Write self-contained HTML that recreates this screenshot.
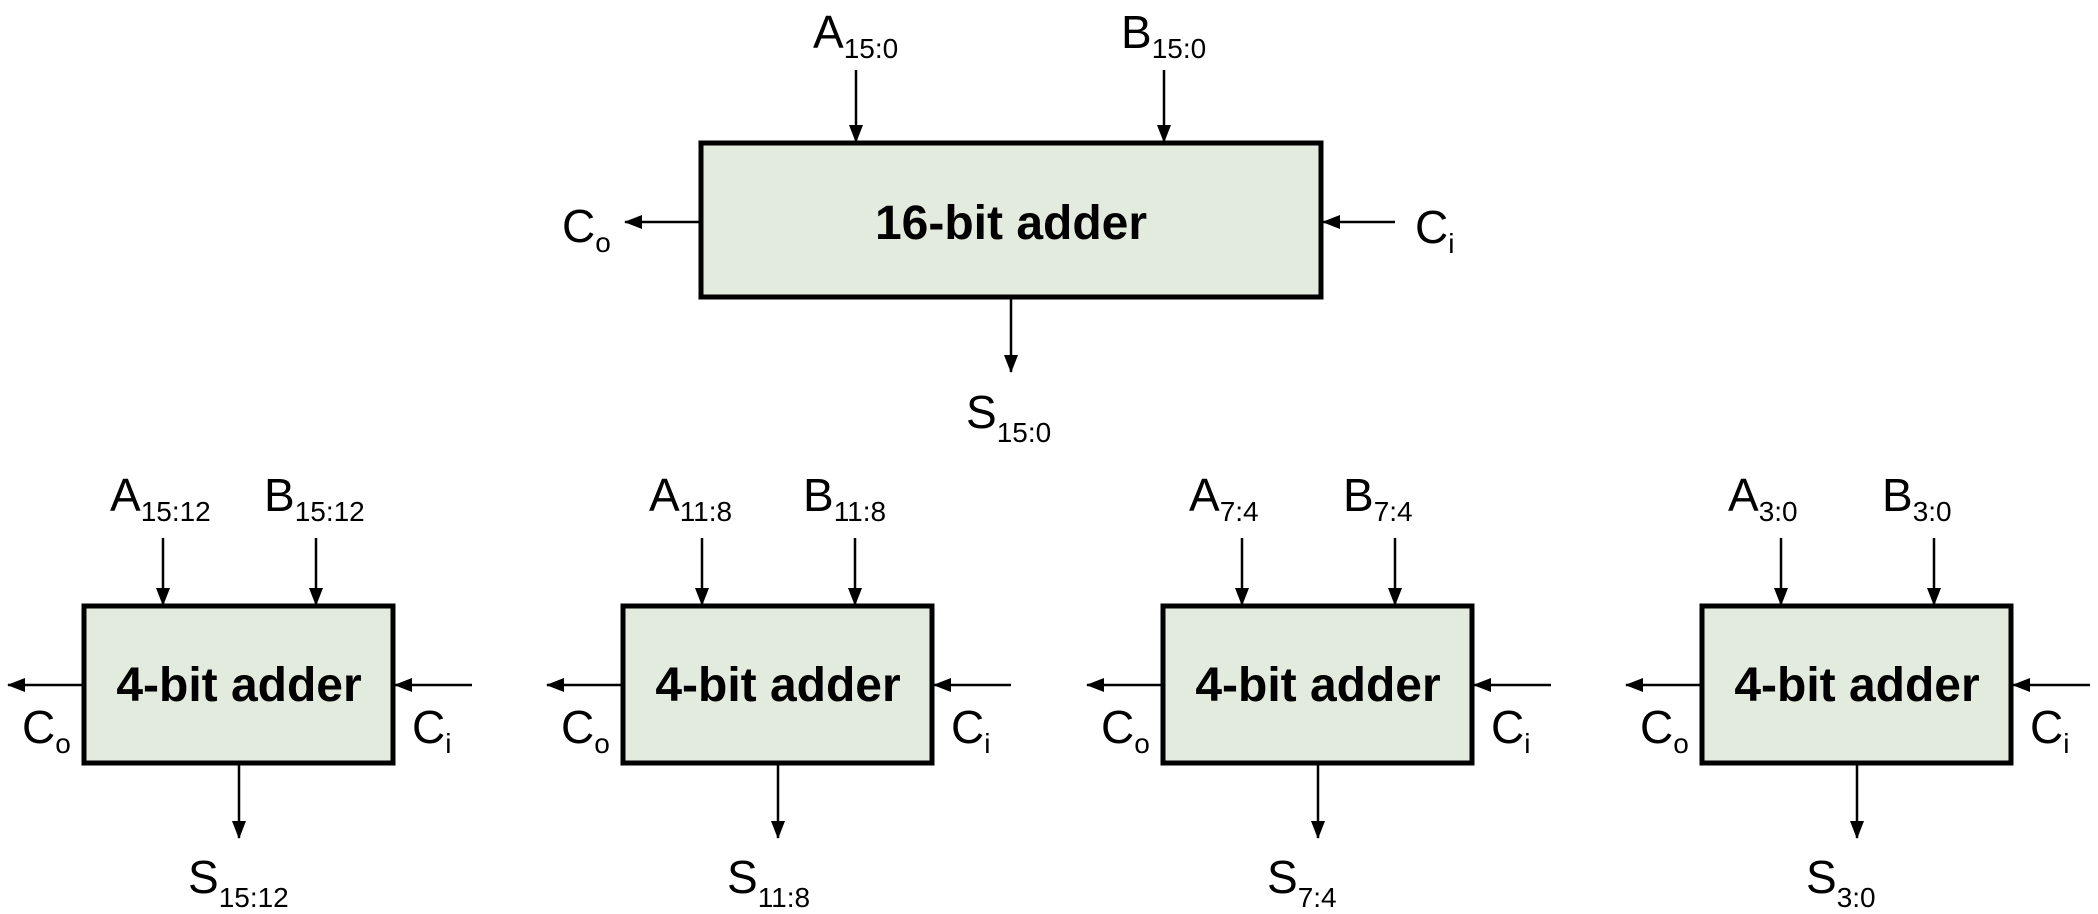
<!DOCTYPE html>
<html><head><meta charset="utf-8"><style>
html,body{margin:0;padding:0;background:#fff;}
svg{display:block;}
text{font-family:"Liberation Sans",Arial,sans-serif;fill:#000;}
.lbl{font-size:46px;}
.sub{font-size:28px;}
.box{fill:#e2ebdd;stroke:#000;stroke-width:5;}
.wire{stroke:#000;stroke-width:2.5;fill:none;}
.title{font-size:48px;font-weight:bold;}
</style></head><body>
<svg width="2098" height="914" viewBox="0 0 2098 914">
<defs>
<marker id="ah" markerWidth="18" markerHeight="14" refX="17" refY="7" orient="auto" markerUnits="userSpaceOnUse">
<path d="M0,0 L18,7 L0,14 Z" fill="#000"/>
</marker>
</defs>

<!-- 16-bit adder -->
<g>
<rect class="box" x="701" y="143" width="620" height="154"/>
<text class="title" x="1011" y="239" text-anchor="middle">16-bit adder</text>
<line class="wire" x1="856" y1="70" x2="856" y2="142" marker-end="url(#ah)"/>
<line class="wire" x1="1164" y1="70" x2="1164" y2="142" marker-end="url(#ah)"/>
<line class="wire" x1="699" y1="222" x2="625" y2="222" marker-end="url(#ah)"/>
<line class="wire" x1="1395" y1="222" x2="1323" y2="222" marker-end="url(#ah)"/>
<line class="wire" x1="1011" y1="299" x2="1011" y2="372" marker-end="url(#ah)"/>
<text class="lbl" x="813" y="48">A<tspan class="sub" dy="10">15:0</tspan></text>
<text class="lbl" x="1121" y="48">B<tspan class="sub" dy="10">15:0</tspan></text>
<text class="lbl" x="562" y="242">C<tspan class="sub" dy="10">o</tspan></text>
<text class="lbl" x="1415" y="243">C<tspan class="sub" dy="10">i</tspan></text>
<text class="lbl" x="966" y="428">S<tspan class="sub" dy="14">15:0</tspan></text>
</g>

<!-- 4-bit adders -->
<g transform="translate(0,0)">
<rect class="box" x="84" y="606" width="309" height="157"/>
<text class="title" x="239" y="701" text-anchor="middle">4-bit adder</text>
<line class="wire" x1="163" y1="538" x2="163" y2="605" marker-end="url(#ah)"/>
<line class="wire" x1="316" y1="538" x2="316" y2="605" marker-end="url(#ah)"/>
<line class="wire" x1="82" y1="685" x2="8" y2="685" marker-end="url(#ah)"/>
<line class="wire" x1="472" y1="685" x2="395" y2="685" marker-end="url(#ah)"/>
<line class="wire" x1="239" y1="765" x2="239" y2="838" marker-end="url(#ah)"/>
<text class="lbl" x="110" y="511">A<tspan class="sub" dy="10">15:12</tspan></text>
<text class="lbl" x="264" y="511">B<tspan class="sub" dy="10">15:12</tspan></text>
<text class="lbl" x="22" y="743">C<tspan class="sub" dy="10">o</tspan></text>
<text class="lbl" x="412" y="743">C<tspan class="sub" dy="10">i</tspan></text>
<text class="lbl" x="188" y="893">S<tspan class="sub" dy="14">15:12</tspan></text>
</g>

<g transform="translate(539,0)">
<rect class="box" x="84" y="606" width="309" height="157"/>
<text class="title" x="239" y="701" text-anchor="middle">4-bit adder</text>
<line class="wire" x1="163" y1="538" x2="163" y2="605" marker-end="url(#ah)"/>
<line class="wire" x1="316" y1="538" x2="316" y2="605" marker-end="url(#ah)"/>
<line class="wire" x1="82" y1="685" x2="8" y2="685" marker-end="url(#ah)"/>
<line class="wire" x1="472" y1="685" x2="395" y2="685" marker-end="url(#ah)"/>
<line class="wire" x1="239" y1="765" x2="239" y2="838" marker-end="url(#ah)"/>
<text class="lbl" x="110" y="511">A<tspan class="sub" dy="10">11:8</tspan></text>
<text class="lbl" x="264" y="511">B<tspan class="sub" dy="10">11:8</tspan></text>
<text class="lbl" x="22" y="743">C<tspan class="sub" dy="10">o</tspan></text>
<text class="lbl" x="412" y="743">C<tspan class="sub" dy="10">i</tspan></text>
<text class="lbl" x="188" y="893">S<tspan class="sub" dy="14">11:8</tspan></text>
</g>

<g transform="translate(1079,0)">
<rect class="box" x="84" y="606" width="309" height="157"/>
<text class="title" x="239" y="701" text-anchor="middle">4-bit adder</text>
<line class="wire" x1="163" y1="538" x2="163" y2="605" marker-end="url(#ah)"/>
<line class="wire" x1="316" y1="538" x2="316" y2="605" marker-end="url(#ah)"/>
<line class="wire" x1="82" y1="685" x2="8" y2="685" marker-end="url(#ah)"/>
<line class="wire" x1="472" y1="685" x2="395" y2="685" marker-end="url(#ah)"/>
<line class="wire" x1="239" y1="765" x2="239" y2="838" marker-end="url(#ah)"/>
<text class="lbl" x="110" y="511">A<tspan class="sub" dy="10">7:4</tspan></text>
<text class="lbl" x="264" y="511">B<tspan class="sub" dy="10">7:4</tspan></text>
<text class="lbl" x="22" y="743">C<tspan class="sub" dy="10">o</tspan></text>
<text class="lbl" x="412" y="743">C<tspan class="sub" dy="10">i</tspan></text>
<text class="lbl" x="188" y="893">S<tspan class="sub" dy="14">7:4</tspan></text>
</g>

<g transform="translate(1618,0)">
<rect class="box" x="84" y="606" width="309" height="157"/>
<text class="title" x="239" y="701" text-anchor="middle">4-bit adder</text>
<line class="wire" x1="163" y1="538" x2="163" y2="605" marker-end="url(#ah)"/>
<line class="wire" x1="316" y1="538" x2="316" y2="605" marker-end="url(#ah)"/>
<line class="wire" x1="82" y1="685" x2="8" y2="685" marker-end="url(#ah)"/>
<line class="wire" x1="472" y1="685" x2="395" y2="685" marker-end="url(#ah)"/>
<line class="wire" x1="239" y1="765" x2="239" y2="838" marker-end="url(#ah)"/>
<text class="lbl" x="110" y="511">A<tspan class="sub" dy="10">3:0</tspan></text>
<text class="lbl" x="264" y="511">B<tspan class="sub" dy="10">3:0</tspan></text>
<text class="lbl" x="22" y="743">C<tspan class="sub" dy="10">o</tspan></text>
<text class="lbl" x="412" y="743">C<tspan class="sub" dy="10">i</tspan></text>
<text class="lbl" x="188" y="893">S<tspan class="sub" dy="14">3:0</tspan></text>
</g>
</svg>
</body></html>
